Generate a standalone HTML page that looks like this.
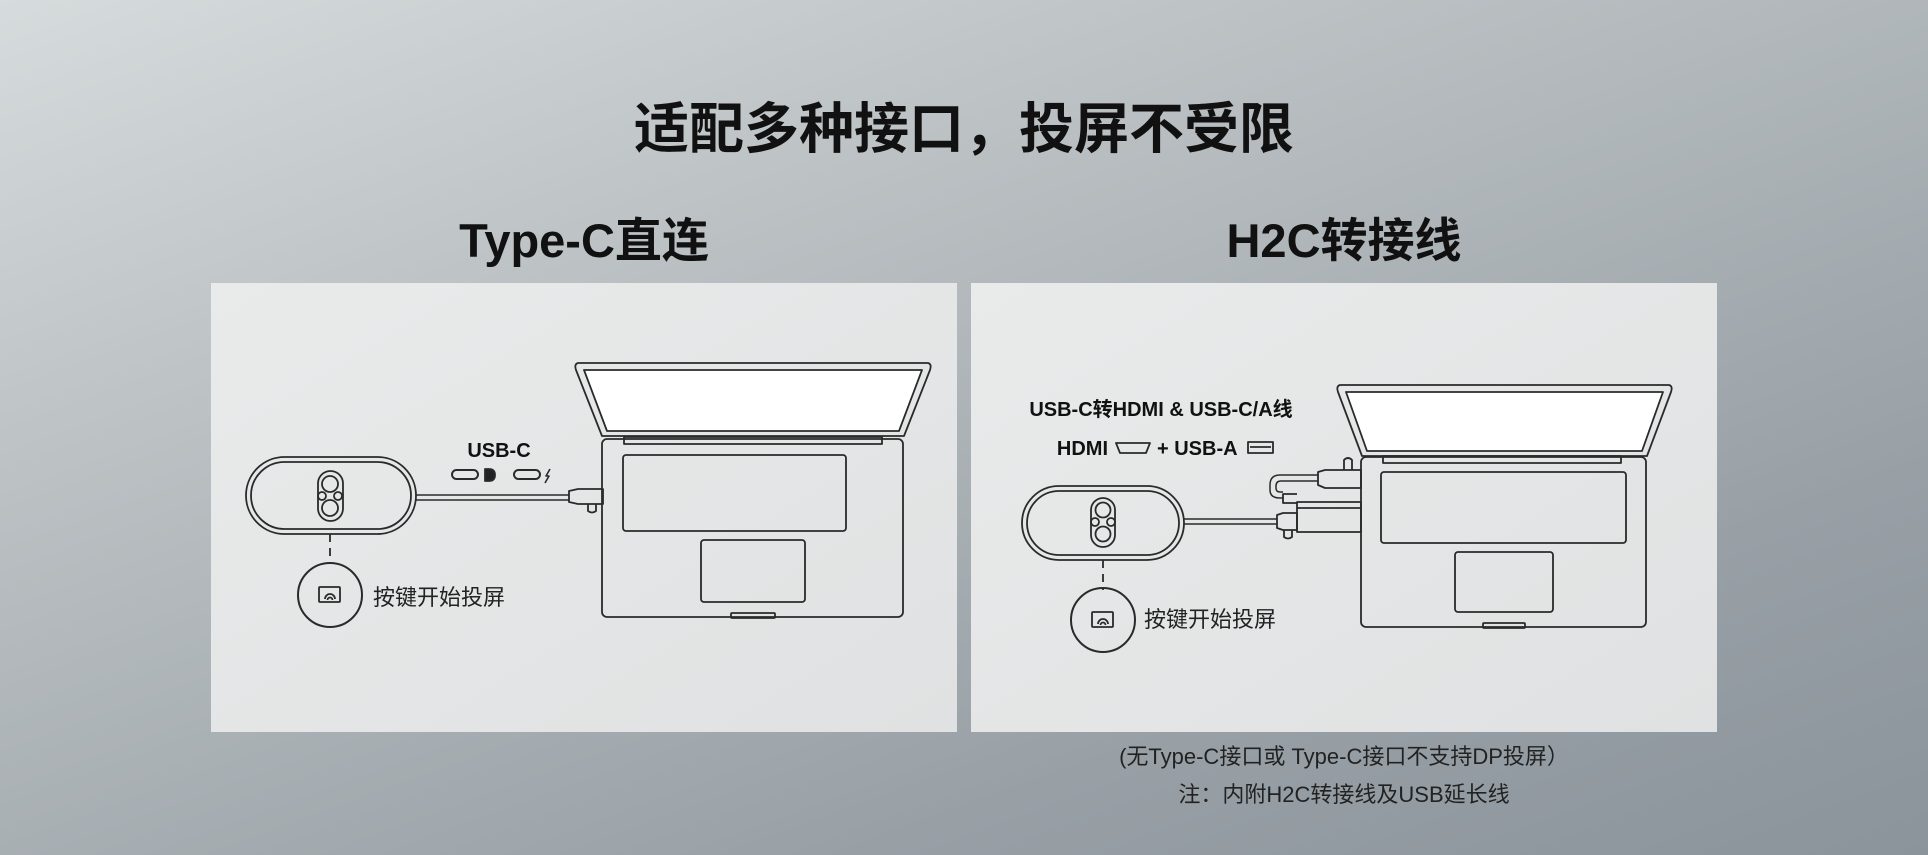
<!DOCTYPE html>
<html><head><meta charset="utf-8"><style>
html,body{margin:0;padding:0}
body{width:1928px;height:855px;overflow:hidden;background:linear-gradient(160deg,#d6dbdc 0%,#b4babd 40%,#98a0a6 75%,#8b949b 100%);font-family:"Liberation Sans","Noto Sans CJK SC",sans-serif}
svg{display:block}
</style></head><body>
<svg width="1928" height="855" viewBox="0 0 1928 855" xmlns="http://www.w3.org/2000/svg">
<defs>
<linearGradient id="pg" x1="0" y1="0" x2="1" y2="1"><stop offset="0" stop-color="#e9ebeb"/><stop offset="1" stop-color="#dfe1e2"/></linearGradient>
</defs>
<g font-family="'Liberation Sans','Noto Sans CJK SC',sans-serif" text-anchor="middle" fill="#111">
<text x="964" y="148" font-size="55" font-weight="700">适配多种接口，投屏不受限</text>
<text x="584" y="257" font-size="47" font-weight="700">Type-C直连</text>
<text x="1344" y="257" font-size="47" font-weight="700">H2C转接线</text>
</g>
<rect x="211" y="283" width="746" height="449" fill="url(#pg)"/>
<rect x="971" y="283" width="746" height="449" fill="url(#pg)"/>

<!-- LEFT PANEL -->
<g fill="none" stroke="#2a2a2a" stroke-width="1.8" stroke-linejoin="round">
<path d="M578 363 L928 363 Q932 364 930 370 L904 436 L602 436 L576 370 Q574 364 578 363Z"/>
<path d="M584 370 L922 370 L899 431 L607 431Z" fill="#fff"/>
<rect x="624" y="437" width="258" height="7"/>
<rect x="602" y="439" width="301" height="178" rx="5"/>
<rect x="623" y="455" width="223" height="76" rx="3"/>
<rect x="701" y="540" width="104" height="62" rx="3"/>
<rect x="731" y="613" width="44" height="5" rx="1"/>
<rect x="246" y="457" width="170" height="77" rx="38.5"/>
<rect x="251" y="462" width="160" height="67" rx="33.5"/>
<rect x="318" y="471" width="25" height="50" rx="12.5"/>
<circle cx="330" cy="484" r="8"/><circle cx="330" cy="508" r="8"/>
<circle cx="322" cy="496" r="4"/><circle cx="338" cy="496" r="4"/>
<path d="M416 495 L569 495 M416 500 L569 500" stroke-width="1.5"/>
<path d="M569 491 L578 489 L603 489 L603 504 L578 504 L569 502Z"/>
<path d="M588 504 L588 511 Q592 514 596 511 L596 504"/>
<path d="M330 534 L330 564" stroke-dasharray="8 6"/>
<circle cx="330" cy="595" r="32" stroke-width="2"/>
<rect x="319" y="587" width="21" height="15" rx="1"/>
<path d="M325 599 a5 5 0 0 1 10 0 M327.5 600 a2.5 2.5 0 0 1 5 0"/>
<rect x="452" y="470" width="26" height="9" rx="4.5" stroke-width="2"/>
<rect x="514" y="470" width="26" height="9" rx="4.5" stroke-width="2"/>
<path d="M485 469 L485 481 L489 481 Q495 481 495 475 Q495 469 489 469Z" fill="#222"/>
<path d="M550 469 L546 476 L549 476 L545 483" stroke-width="1.6"/>
</g>
<text x="499" y="457" font-size="20" font-weight="700" text-anchor="middle" fill="#111">USB-C</text>
<text x="373" y="605" font-size="22" fill="#222">按键开始投屏</text>

<!-- RIGHT PANEL -->
<g fill="none" stroke="#2a2a2a" stroke-width="1.8" stroke-linejoin="round">
<path d="M1340 385 L1669 385 Q1673 386 1671 392 L1647 456 L1362 456 L1338 392 Q1336 386 1340 385Z"/>
<path d="M1346 392 L1663 392 L1642 451 L1367 451Z" fill="#fff"/>
<rect x="1383" y="456" width="238" height="7"/>
<rect x="1361" y="457" width="285" height="170" rx="5"/>
<rect x="1381" y="472" width="245" height="71" rx="3"/>
<rect x="1455" y="552" width="98" height="60" rx="3"/>
<rect x="1483" y="623" width="42" height="5" rx="1"/>
<rect x="1022" y="486" width="162" height="74" rx="37"/>
<rect x="1027" y="491" width="152" height="64" rx="32"/>
<rect x="1091" y="498" width="24" height="49" rx="12"/>
<circle cx="1103" cy="510" r="7.5"/><circle cx="1103" cy="534" r="7.5"/>
<circle cx="1095" cy="522" r="4"/><circle cx="1111" cy="522" r="4"/>
<path d="M1184 519 L1277 519 M1184 524 L1277 524" stroke-width="1.5"/>
<path d="M1277 515 L1283 513 L1297 513 L1297 530 L1283 530 L1277 528Z"/>
<path d="M1284 530 L1284 537 Q1288 540 1292 537 L1292 530"/>
<rect x="1297" y="502" width="64" height="30"/>
<path d="M1297 508 L1361 508"/>
<path d="M1297 494 L1283 494 L1283 503 L1297 503"/>
<path d="M1283 498 L1280 498 Q1270 498 1270 490 L1270 485 Q1270 475 1280 475 L1318 475 M1283 492 L1280 492 Q1276 492 1276 488 L1276 486 Q1276 481 1281 481 L1318 481" stroke-width="1.5"/>
<path d="M1318 472 L1325 470 L1361 470 L1361 488 L1325 488 L1318 485Z"/>
<path d="M1344 470 L1344 460 Q1348 456 1352 460 L1352 470"/>
<path d="M1103 560 L1103 590" stroke-dasharray="8 6"/>
<circle cx="1103" cy="620" r="32" stroke-width="2"/>
<rect x="1092" y="612" width="21" height="15" rx="1"/>
<path d="M1098 624 a5 5 0 0 1 10 0 M1100.5 625 a2.5 2.5 0 0 1 5 0"/>
<path d="M1116 443 L1150 443 L1146 453 L1120 453Z"/>
<rect x="1248" y="442" width="25" height="11"/>
<path d="M1250 447 L1271 447"/>
</g>
<text x="1161" y="416" font-size="20" font-weight="700" text-anchor="middle" fill="#111">USB-C转HDMI &amp; USB-C/A线</text>
<text x="1108" y="455" font-size="20" font-weight="700" text-anchor="end" fill="#111">HDMI</text>
<text x="1157" y="455" font-size="20" font-weight="700" text-anchor="start" fill="#111">+ USB-A</text>
<text x="1144" y="627" font-size="22" fill="#222">按键开始投屏</text>

<text x="1344" y="764" font-size="22" text-anchor="middle" fill="#222">(无Type-C接口或 Type-C接口不支持DP投屏）</text>
<text x="1344" y="802" font-size="22" text-anchor="middle" fill="#222">注：内附H2C转接线及USB延长线</text>
</svg>
</body></html>
